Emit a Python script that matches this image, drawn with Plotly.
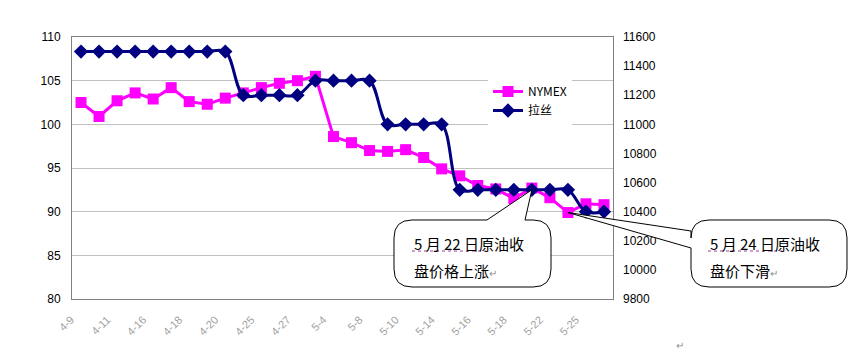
import plotly.graph_objects as go

# ---------------- data ----------------
dates = ["4-9", "4-10", "4-11", "4-12", "4-16", "4-17", "4-18", "4-19", "4-20", "4-23",
         "4-25", "4-26", "4-27", "5-3", "5-4", "5-7", "5-8", "5-9", "5-10", "5-11",
         "5-14", "5-15", "5-16", "5-17", "5-18", "5-21", "5-22", "5-24", "5-25", "5-28"]
nymex = [102.5, 100.9, 102.7, 103.6, 102.9, 104.2, 102.6, 102.3, 103.0, 103.6,
         104.2, 104.7, 105.0, 105.5, 98.6, 97.9, 97.0, 96.9, 97.1, 96.2,
         94.9, 94.1, 93.0, 92.6, 91.5, 92.7, 91.6, 89.9, 90.9, 90.8]
lasi = [11500, 11500, 11500, 11500, 11500, 11500, 11500, 11500, 11500, 11200,
        11200, 11200, 11200, 11300, 11300, 11300, 11300, 11000, 11000, 11000,
        11000, 10550, 10550, 10550, 10550, 10550, 10550, 10550, 10400, 10400]
label_dates = dates[::2]
left_range = [80, 110]
right_range = [9800, 11600]
note1 = ["5 月 22 日原油收", "盘价格上涨"]
note2 = ["5 月 24 日原油收", "盘价下滑"]
note1_idx, note2_idx = 25, 27

# ---------------- layout geometry ----------------
W, H = 856, 354
ML, MR, MT, MB = 72, 243, 37, 55
PW, PH = W - ML - MR, H - MT - MB

def px(x, y):
    """pixel -> paper"""
    return (x - ML) / PW, 1 - (y - MT) / PH

def tip_from_left(i, v):
    n = len(dates)
    X = (i + 0.5) / n
    Y = (v - left_range[0]) / (left_range[1] - left_range[0])
    return X, Y

def tip_from_right(i, v):
    n = len(dates)
    X = (i + 0.5) / n
    Y = (v - right_range[0]) / (right_range[1] - right_range[0])
    return X, Y

def P(pt):
    return f"{pt[0]:.5f},{pt[1]:.5f}"

def callout_top(x0, y0, x1, y1, r, bx0, bx1, tip):
    s = "M " + P(px(x0 + r, y0))
    s += " L " + P(px(bx0, y0)) + " L " + P(tip) + " L " + P(px(bx1, y0))
    s += " L " + P(px(x1 - r, y0)) + " Q " + P(px(x1, y0)) + " " + P(px(x1, y0 + r))
    s += " L " + P(px(x1, y1 - r)) + " Q " + P(px(x1, y1)) + " " + P(px(x1 - r, y1))
    s += " L " + P(px(x0 + r, y1)) + " Q " + P(px(x0, y1)) + " " + P(px(x0, y1 - r))
    s += " L " + P(px(x0, y0 + r)) + " Q " + P(px(x0, y0)) + " " + P(px(x0 + r, y0)) + " Z"
    return s

def callout_left(x0, y0, x1, y1, r, by0, by1, tip):
    s = "M " + P(px(x0 + r, y0))
    s += " L " + P(px(x1 - r, y0)) + " Q " + P(px(x1, y0)) + " " + P(px(x1, y0 + r))
    s += " L " + P(px(x1, y1 - r)) + " Q " + P(px(x1, y1)) + " " + P(px(x1 - r, y1))
    s += " L " + P(px(x0 + r, y1)) + " Q " + P(px(x0, y1)) + " " + P(px(x0, y1 - r))
    s += " L " + P(px(x0, by1)) + " L " + P(tip) + " L " + P(px(x0, by0))
    s += " L " + P(px(x0, y0 + r)) + " Q " + P(px(x0, y0)) + " " + P(px(x0 + r, y0)) + " Z"
    return s

fig = go.Figure()
fig.add_trace(go.Scatter(
    x=dates, y=nymex, name="NYMEX", mode="lines+markers",
    line=dict(color="#FF00FF", width=3),
    marker=dict(symbol="square", size=11, color="#FF00FF"),
    yaxis="y"))
fig.add_trace(go.Scatter(
    x=dates, y=lasi, name="拉丝", mode="lines+markers",
    line=dict(color="#000080", width=3, shape="spline", smoothing=1.0),
    marker=dict(symbol="diamond", size=11, color="#000080"),
    yaxis="y2"))

tip1 = tip_from_right(note1_idx, lasi[note1_idx])
tip2 = tip_from_left(note2_idx, nymex[note2_idx])

shapes = [
    dict(type="path", xref="paper", yref="paper", layer="above",
         path=callout_top(394, 220, 551, 287, 18, 487, 525, tip1),
         fillcolor="white", line=dict(color="black", width=1)),
    dict(type="path", xref="paper", yref="paper", layer="above",
         path=callout_left(691, 220, 847, 287, 18, 231, 248, tip2),
         fillcolor="white", line=dict(color="black", width=1)),
]
# spell-check dotted underline
for (xa, xb) in [(412, 486), (708, 782)]:
    a = px(xa, 251); b = px(xb, 251)
    shapes.append(dict(type="line", xref="paper", yref="paper", layer="above",
                       x0=a[0], y0=a[1], x1=b[0], y1=b[1],
                       line=dict(color="#a040a0", width=1, dash="dot")))

ret = "<span style='font-size:10px;color:#909090'>↵</span>"
annos = []
for (lines, lx) in [(note1, 412), (note2, 708)]:
    for k, (t, ly) in enumerate(zip(lines, [243, 270])):
        X, Y = px(lx, ly)
        annos.append(dict(xref="paper", yref="paper", x=X, y=Y, xanchor="left", yanchor="middle",
                          text=t + (ret if k == 1 else ""), showarrow=False,
                          font=dict(family="Noto Sans CJK SC", size=15, color="black")))
X, Y = px(680, 345)
annos.append(dict(xref="paper", yref="paper", x=X, y=Y, xanchor="center", yanchor="middle",
                  text="↵", showarrow=False, font=dict(size=10, color="#909090")))

lx, ly = px(488, 77)
fig.update_layout(
    width=W, height=H,
    margin=dict(l=ML, r=MR, t=MT, b=MB, pad=0),
    paper_bgcolor="white", plot_bgcolor="white",
    font=dict(family="Liberation Sans, Arial", size=12, color="black"),
    showlegend=True,
    legend=dict(x=lx, y=ly, xanchor="left", yanchor="top", bgcolor="white",
                font=dict(family="Noto Sans CJK SC", size=12, color="black"),
                itemwidth=30, tracegroupgap=0),
    xaxis=dict(type="category", tickmode="array", tickvals=label_dates, ticktext=label_dates,
               tickangle=-45, tickfont=dict(size=11, color="#a0a0a0"),
               ticklabelstandoff=9, ticklabelshift=-10,
               showgrid=False, showline=True, linecolor="#808080", linewidth=1,
               mirror=True, ticks="", range=[-0.5, len(dates) - 0.5]),
    yaxis=dict(range=left_range, dtick=5, showgrid=True, gridcolor="#c0c0c0", gridwidth=1,
               showline=True, linecolor="#808080", linewidth=1, mirror=True,
               ticks="", zeroline=False, ticklabelstandoff=8),
    yaxis2=dict(range=right_range, dtick=200, overlaying="y", side="right", showgrid=False,
                tickformat="d",
                showline=False, ticks="", zeroline=False, ticklabelstandoff=9),
    shapes=shapes,
    annotations=annos,
)

fig.write_html("out.html")
